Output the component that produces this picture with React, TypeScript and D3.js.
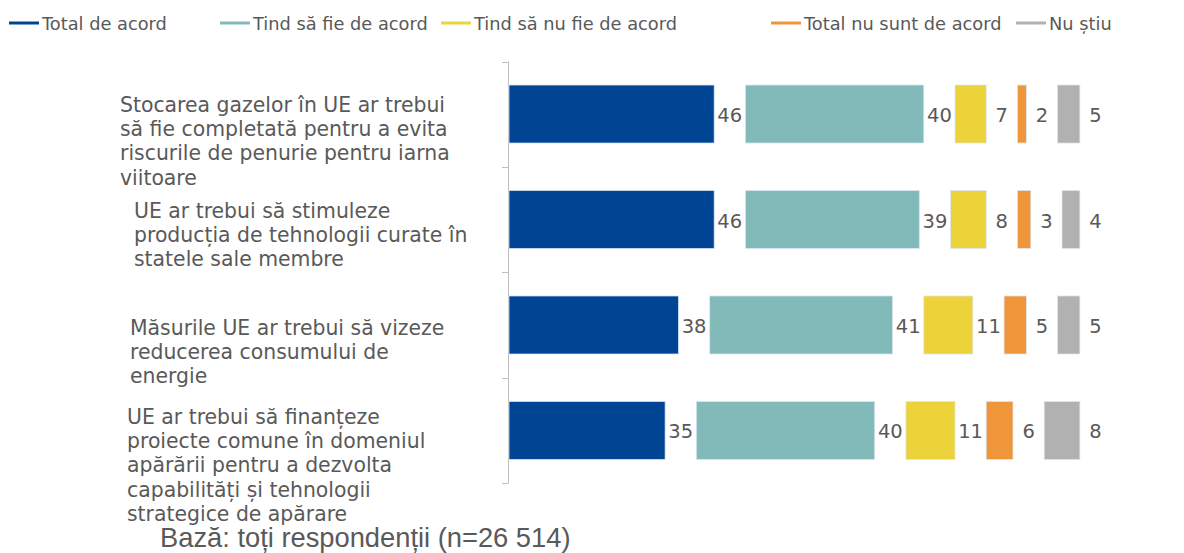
import { useEffect, useRef } from 'react';
import * as d3 from 'd3';

const categories = [
  ['Stocarea gazelor în UE ar trebui', 'să fie completată pentru a evita', 'riscurile de penurie pentru iarna', 'viitoare'],
  ['UE ar trebui să stimuleze', 'producția de tehnologii curate în', 'statele sale membre'],
  ['Măsurile UE ar trebui să vizeze', 'reducerea consumului de', 'energie'],
  ['UE ar trebui să finanțeze', 'proiecte comune în domeniul', 'apărării pentru a dezvolta', 'capabilități și tehnologii', 'strategice de apărare'],
];
// where each wrapped label block sits (left edge, first baseline)
const labelX = [120, 134, 130, 127];
const labelY = [112, 218, 335, 424];

const seriesNames = ['Total de acord', 'Tind să fie de acord', 'Tind să nu fie de acord', 'Total nu sunt de acord', 'Nu știu'];
const colors = ['#004494', '#82BABA', '#ECD33A', '#F0963A', '#B1B1B1'];

const totalAgree = [46, 46, 38, 35];
const tendAgree = [40, 39, 41, 40];
const tendDisagree = [7, 8, 11, 11];
const totalDisagree = [2, 3, 5, 6];
const dontKnow = [5, 4, 5, 8];

const legendX = [9, 220, 441, 771, 1016];

const W = 1184;
const H = 553;
const GAP = 7; // space left after each segment for its label, in data units

function App() {
  const svgRef = useRef<SVGSVGElement>(null);

  useEffect(() => {
    const svg = d3.select(svgRef.current);
    svg.selectAll('*').remove();
    const grey = '#595959';
    const font = 'DejaVu Sans, Verdana, sans-serif';

    const series = [totalAgree, tendAgree, tendDisagree, totalDisagree, dontKnow];
    const rows = categories.map((c, i) => {
      let x0 = 0;
      return series.map((s, k) => {
        const seg = { k, start: x0, value: s[i] };
        x0 += s[i] + GAP;
        return seg;
      });
    });

    const x = d3.scaleLinear().domain([0, 135]).range([509, 509 + 135 * 4.46]);
    const y = d3.scaleBand<number>().domain(d3.range(categories.length)).range([61.5, 483]).paddingInner(0.45).paddingOuter(0.223);
    const step = y.step();

    // legend
    const lg = svg.append('g');
    seriesNames.forEach((name, k) => {
      lg.append('line').attr('x1', legendX[k]).attr('x2', legendX[k] + 30).attr('y1', 23).attr('y2', 23)
        .attr('stroke', colors[k]).attr('stroke-width', 3);
      lg.append('text').attr('x', legendX[k] + 33).attr('y', 30).attr('font-family', font).attr('font-size', 17.8)
        .attr('fill', grey).text(name);
    });

    // axis
    const ax = svg.append('g').attr('stroke', '#BFBFBF').attr('stroke-width', 1);
    ax.append('line').attr('x1', 508.5).attr('x2', 508.5).attr('y1', 61.5).attr('y2', 483);
    d3.range(categories.length + 1).forEach(i => {
      const yy = Math.round(61.5 + i * step) + 0.5;
      ax.append('line').attr('x1', 502).attr('x2', 508.5).attr('y1', yy).attr('y2', yy);
    });

    // bars
    rows.forEach((row, i) => {
      const g = svg.append('g');
      g.selectAll('rect').data(row).enter().append('rect')
        .attr('x', d => x(d.start))
        .attr('y', y(i)!)
        .attr('width', d => x(d.start + d.value) - x(d.start))
        .attr('height', y.bandwidth())
        .attr('fill', d => colors[d.k])
        .attr('stroke', '#DCE6F2').attr('stroke-width', 0.75);
      g.selectAll('text').data(row).enter().append('text')
        .attr('x', d => x(d.start + d.value + GAP / 2))
        .attr('y', y(i)! + y.bandwidth() / 2 + 8)
        .attr('text-anchor', 'middle')
        .attr('font-family', font).attr('font-size', 19.5).attr('fill', grey)
        .text(d => d.value);
    });

    // category labels
    categories.forEach((lines, i) => {
      const t = svg.append('text').attr('font-family', font).attr('font-size', 20.4).attr('fill', grey);
      lines.forEach((l, j) => {
        t.append('tspan').attr('x', labelX[i]).attr('y', labelY[i] + j * 24.2).text(l);
      });
    });

    svg.append('text').attr('x', 160).attr('y', 547).attr('font-family', 'Liberation Sans, Arial, sans-serif')
      .attr('font-size', 27.3).attr('fill', grey).text('Bază: toți respondenții (n=26 514)');
  }, []);

  return (
    <div>
      <svg ref={svgRef} width={W} height={H} style={{ position: 'absolute', left: 0, top: 0, background: '#fff' }} />
    </div>
  );
}

export default App;
